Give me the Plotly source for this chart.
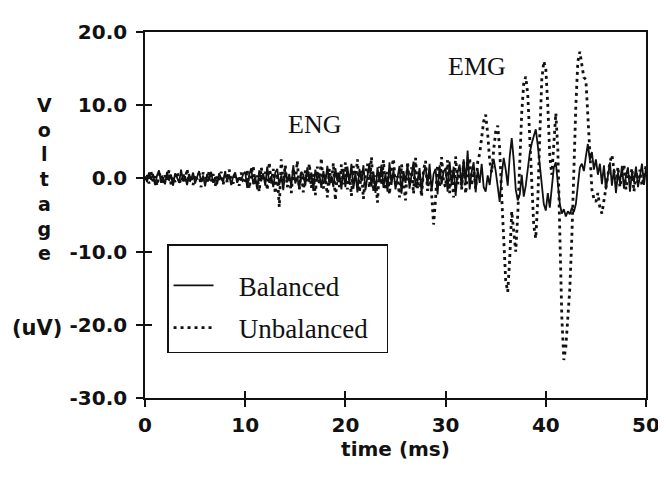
import plotly.graph_objects as go

# ---------------- data ----------------
SAMPLE_STEP_MS = 0.2

balanced = [
    # 0.0 - 9.8 ms
    0.3, -0.5, 0.8, -0.2, 0.6, -0.9, 0.4, 1.1, -0.6, 0.2,
    -0.8, 0.9, -0.3, 0.5, -1.0, 0.7, 0.1, -0.6, 1.2, -0.4,
    0.3, -0.9, 0.6, -0.2, 0.8, -0.7, 0.2, 1.0, -0.5, 0.4,
    -1.1, 0.6, -0.3, 0.9, -0.6, 0.2, -0.8, 0.7, 0.0, -0.5,
    1.0, -0.4, 0.5, -0.9, 0.3, 0.8, -0.6, 0.1, -0.3, 0.6,
    # 10.0 - 19.8 ms
    0.9, -1.3, 0.5, 1.4, -0.8, 0.2, -1.5, 1.1, -0.4, 0.7,
    -1.0, 1.6, -0.6, 0.3, -1.2, 0.8, 1.3, -0.9, 0.4, -1.6,
    1.0, -0.3, 0.6, -1.1, 1.8, -0.7, 0.2, -1.4, 0.9, 0.5,
    -1.0, 1.5, -0.5, 0.8, -1.7, 1.2, -0.2, 0.6, -1.3, 1.0,
    -0.6, 1.7, -0.9, 0.3, -1.2, 1.4, -0.4, 0.7, -1.5, 1.1,
    # 20.0 - 29.8 ms
    -1.2, 1.6, -0.7, 2.0, -1.4, 0.8, -1.9, 1.3, -0.4, 1.8,
    -1.6, 0.6, 2.1, -1.1, 0.9, -2.0, 1.5, -0.5, 1.9, -1.3,
    0.7, -1.8, 2.2, -0.9, 1.2, -1.5, 0.4, 1.7, -2.1, 1.0,
    -0.6, 1.9, -1.4, 0.5, 2.3, -1.2, -0.3, 1.4, -1.9, 0.8,
    1.6, -1.0, 2.0, -1.7, 0.6, 1.3, -2.2, 1.8, -0.8, 0.9,
    # 30.0 - 34.8 ms
    1.4, -1.8, 2.3, -0.9, 1.6, -2.4, 0.8, 1.9, -1.3, 2.6,
    -0.7, 3.8, -1.5, 0.9, 2.2, -1.9, 1.2, -0.6, 2.0, -1.2,
    -1.8, 0.4, -0.9, 1.5, 2.6,
    # 35.0 - 39.8 ms
    1.0, -1.5, -3.2, 0.5, 2.8, 1.2, -1.0, 3.0, 5.5, 2.5,
    -1.5, -3.0, -2.2, 0.5, -2.5, -1.0, 1.5, 3.5, 4.8, 5.8,
    6.7, 4.5, 1.5, -1.5, -3.5,
    # 40.0 - 44.8 ms
    -4.4, -2.0, -4.0, -1.0, 1.5, 2.2, -0.5, -3.5, -4.8, -4.2,
    -5.2, -4.5, -4.9, -4.0, -4.6, -3.5, -1.0, 1.5, 2.0, 1.0,
    3.0, 4.7, 2.5, 3.6, 1.2,
    # 45.0 - 50.0 ms
    2.6, 0.5, 2.0, -0.8, 1.8, -1.5, 0.6, 2.2, -1.0, 1.3,
    -2.0, 0.8, -0.6, 1.7, -1.4, 0.4, 1.5, -1.8, 0.9, -0.5,
    1.6, -1.2, 0.3, 2.0, -0.9, 1.5,
]

unbalanced = [
    # 0.0 - 9.8 ms
    -0.2, 0.6, -0.7, 0.9, -0.4, 0.3, -1.0, 0.5, 0.8, -0.6,
    0.4, -0.3, 1.1, -0.8, 0.2, -0.5, 0.9, -0.2, -0.7, 0.6,
    -0.4, 1.3, -0.6, 0.3, -0.9, 0.5, -0.1, 0.7, -1.2, 0.8,
    0.2, -0.6, 1.0, -0.4, 0.6, -1.1, 0.3, -0.2, 0.9, -0.8,
    0.4, -0.5, 1.2, -0.3, -0.7, 0.5, 0.2, -1.0, 0.8, -0.4,
    # 10.0 - 19.8 ms
    -0.7, 1.2, -1.4, 0.6, 1.7, -1.0, 0.4, -1.8, 1.5, -0.3,
    0.9, -1.6, 2.2, -0.8, 1.3, -2.1, 0.7, -3.9, 2.6, -0.5,
    1.8, -1.2, 0.3, -2.0, 1.4, -0.6, 2.4, -1.5, 0.8, -1.9,
    1.1, -0.4, 2.0, -1.3, 0.6, -2.3, 1.6, -0.9, 2.8, -1.4,
    0.5, -2.6, 1.3, -0.7, 2.1, -3.0, 0.9, -1.2, 1.9, -0.8,
    # 20.0 - 29.8 ms
    2.2, -1.5, 0.8, -2.4, 1.7, -0.6, 2.6, -1.9, 1.1, -2.8,
    0.5, 2.0, -1.3, 2.9, -1.8, 0.4, -3.3, 1.6, -0.9, 2.5,
    -1.6, 0.9, -2.2, 1.4, 2.7, -1.1, 0.3, -2.6, 1.9, -1.0,
    -3.0, 2.3, -0.7, 1.5, -2.1, 2.8, -1.4, 0.6, -2.5, 1.2,
    2.4, -1.7, 0.7, -2.0, -6.3, -2.8, 1.8, -1.2, 2.9, -0.5,
    # 30.0 - 34.8 ms
    -1.2, 2.5, -2.0, 1.1, -2.6, 3.0, -0.8, 1.7, -1.5, 2.3,
    -2.1, 0.6, 2.8, -1.0, 1.5, -1.4, 2.2, 3.4, 5.6, 7.8,
    8.7, 6.1, 2.4, 0.8, 3.9,
    # 35.0 - 39.8 ms
    6.4, 7.2, 4.0, -2.5, -9.0, -14.0, -15.5, -11.0, -4.5, -7.5,
    -10.0, -5.0, 2.5, 9.0, 13.0, 13.9, 11.5, 5.0, -2.0, -6.5,
    -8.2, -3.0, 6.0, 13.5, 16.0,
    # 40.0 - 44.8 ms
    15.0, 10.0, 3.0, 0.5, 5.0, 8.9, 4.0, -8.0, -19.0, -24.8,
    -23.0, -19.0, -15.0, -8.0, 2.0, 10.0, 16.0, 17.3, 15.5, 13.8,
    13.5, 9.0, 3.0, -1.5, -2.8,
    # 45.0 - 50.0 ms
    -3.2, -2.0, -4.0, -4.8, -3.0, -1.2, 0.8, 2.2, 3.2, 1.0,
    -0.8, 1.6, -1.2, 0.5, 1.9, -1.5, 0.7, -0.3, 1.4, -1.8,
    0.9, -0.6, 1.2, -1.0, 0.4, 1.7,
]

time_ms = [round(i * SAMPLE_STEP_MS, 1) for i in range(len(balanced))]

series_names = ["Balanced", "Unbalanced"]

x_tickvals = [0, 10, 20, 30, 40, 50]
x_ticktext = ["0", "10", "20", "30", "40", "50"]
y_tickvals = [20, 10, 0, -10, -20, -30]
y_ticktext = ["20.0", "10.0", "0.0", "-10.0", "-20.0", "-30.0"]

note_labels = ["ENG", "EMG"]
note_t = [16.9, 33.1]
note_v = [7.3, 15.3]

# ---------------- figure ----------------
SANS = "DejaVu Sans"
SERIF = "Liberation Serif"
INK = "#111111"
NBSP = "\u00a0"

fig = go.Figure()
fig.add_trace(go.Scatter(
    x=time_ms, y=balanced, mode="lines",
    name=NBSP * 3 + series_names[0] + NBSP * 2,
    legendgroup="a",
    line=dict(color=INK, width=1.8), xaxis="x", yaxis="y",
))
fig.add_trace(go.Scatter(
    x=time_ms, y=unbalanced, mode="lines",
    name=NBSP * 3 + series_names[1] + NBSP * 2,
    legendgroup="b",
    line=dict(color=INK, width=2.8, dash="3px,4px"), xaxis="x", yaxis="y",
))
# carrier for the inward tick marks
fig.add_trace(go.Scatter(x=[None], y=[None], xaxis="x2", yaxis="y2",
                         showlegend=False, hoverinfo="skip"))

for lab, tx, vy in zip(note_labels, note_t, note_v):
    fig.add_annotation(x=tx, y=vy, xref="x", yref="y", text=lab, showarrow=False,
                       font=dict(family=SERIF, size=26, color=INK))

fig.add_annotation(x=-0.2, y=0.835, xref="paper", yref="paper", xanchor="center",
                   yanchor="top", text="<br>".join("Voltage"), showarrow=False,
                   font=dict(family=SANS, size=19, color=INK, weight="bold"))
fig.add_annotation(x=-0.215, y=0.19, xref="paper", yref="paper", xanchor="center",
                   yanchor="middle", text="(uV)", showarrow=False,
                   font=dict(family=SANS, size=21, color=INK, weight="bold"))

tickfont = dict(family=SANS, size=20, color=INK, weight="bold")
common = dict(showgrid=False, zeroline=False, ticks="outside", ticklen=7,
              tickwidth=1.5, tickcolor=INK)

fig.update_layout(
    width=666, height=480,
    margin=dict(l=137, r=28, t=18, b=90),
    paper_bgcolor="white", plot_bgcolor="white",
    xaxis=dict(range=[0, 50], tickvals=x_tickvals, ticktext=x_ticktext,
               showline=True, linewidth=1.6, linecolor=INK, mirror=True,
               tickfont=tickfont, ticklabelstandoff=1,
               title=dict(text="time (ms)", standoff=4,
                          font=dict(family=SANS, size=20, color=INK, weight="bold")),
               **common),
    yaxis=dict(range=[-30, 20], tickvals=y_tickvals, ticktext=y_ticktext,
               showline=True, linewidth=1.6, linecolor=INK, mirror=True,
               tickfont=tickfont, ticklabelstandoff=5, **common),
    xaxis2=dict(range=[0, 50], overlaying="x", anchor="y2", side="bottom",
                tickvals=x_tickvals, showticklabels=False, showline=False,
                showgrid=False, zeroline=False, ticks="inside", ticklen=7,
                tickwidth=1.5, tickcolor=INK),
    yaxis2=dict(range=[-30, 20], overlaying="y", anchor="x2", side="left",
                tickvals=y_tickvals, showticklabels=False, showline=False,
                showgrid=False, zeroline=False, ticks="inside", ticklen=7,
                tickwidth=1.5, tickcolor=INK),
    legend=dict(x=0.044, y=0.42, xanchor="left", yanchor="top",
                bgcolor="white", bordercolor=INK, borderwidth=1.5,
                font=dict(family=SERIF, size=27, color=INK),
                title=dict(text=NBSP, font=dict(size=12)),
                itemwidth=40, tracegroupgap=4),
    showlegend=True,
)

fig.write_html("out.html")
